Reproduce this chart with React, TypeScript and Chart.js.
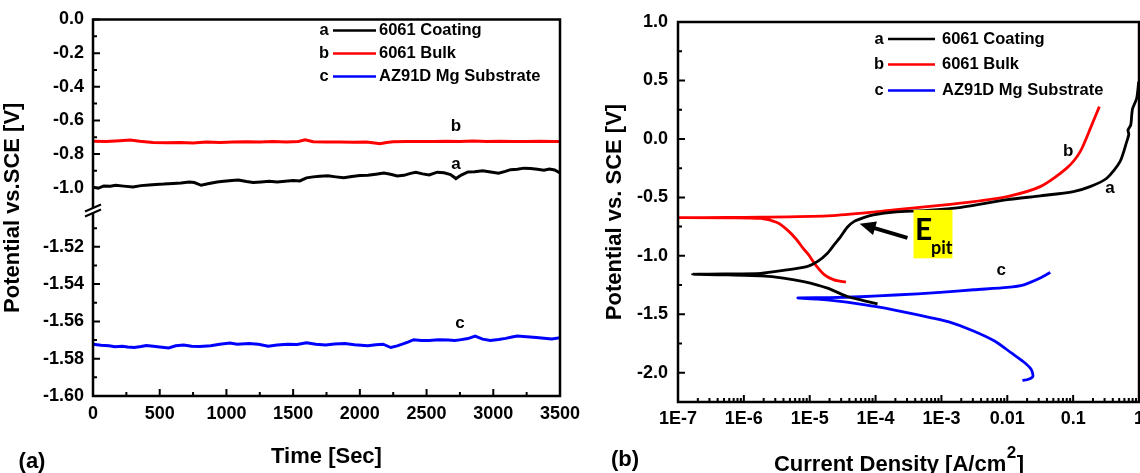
import React, { useEffect, useRef } from 'react';
import { Chart, registerables } from 'chart.js';

Chart.register(...registerables);

const FONT = "'Liberation Sans', Arial, Helvetica, sans-serif";

const seriesLetters = ['a', 'b', 'c'];
const seriesNames = ['6061 Coating', '6061 Bulk', 'AZ91D Mg Substrate'];
const seriesColors = ['#000000', '#ff0000', '#0000ff'];

// ---------- Panel (a): open circuit potential vs time ----------
const timeTicks = [0, 500, 1000, 1500, 2000, 2500, 3000, 3500];
const timeMinorTicks = [250, 750, 1250, 1750, 2250, 2750, 3250];
const upperTicks = [0, -0.2, -0.4, -0.6, -0.8, -1.0];
const upperMinorTicks = [-0.1, -0.3, -0.5, -0.7, -0.9];
const lowerTicks = [-1.52, -1.54, -1.56, -1.58, -1.6];
const lowerMinorTicks = [-1.51, -1.53, -1.55, -1.57, -1.59];

const coatingTime = [0, 40, 80, 130, 170, 230, 300, 360, 420, 470, 530, 600, 660, 720, 760, 810, 870, 930, 980, 1040, 1090, 1150, 1200, 1260, 1320, 1380, 1440, 1500, 1550, 1600, 1650, 1700, 1760, 1820, 1880, 1940, 2000, 2060, 2120, 2180, 2230, 2280, 2330, 2380, 2420, 2470, 2520, 2580, 2630, 2680, 2720, 2760, 2810, 2860, 2920, 2980, 3040, 3090, 3130, 3180, 3230, 3280, 3330, 3380, 3420, 3460, 3500];
const coatingOcp = [-0.998, -1.004, -0.99, -0.992, -0.986, -0.991, -0.996, -0.988, -0.984, -0.981, -0.979, -0.975, -0.972, -0.967, -0.97, -0.986, -0.975, -0.966, -0.962, -0.958, -0.955, -0.964, -0.97, -0.966, -0.962, -0.966, -0.962, -0.958, -0.96, -0.942, -0.936, -0.932, -0.93, -0.936, -0.941, -0.934, -0.928, -0.926, -0.92, -0.913, -0.92, -0.931, -0.927, -0.915, -0.909, -0.918, -0.925, -0.908, -0.912, -0.922, -0.946, -0.925, -0.907, -0.905, -0.9, -0.907, -0.914, -0.903, -0.893, -0.89, -0.884, -0.886, -0.89, -0.896, -0.889, -0.895, -0.912];

const bulkTime = [0, 100, 200, 280, 350, 450, 550, 650, 750, 850, 950, 1050, 1150, 1250, 1350, 1450, 1540, 1590, 1650, 1750, 1850, 1950, 2050, 2110, 2150, 2200, 2250, 2350, 2450, 2550, 2650, 2750, 2850, 2950, 3050, 3150, 3250, 3350, 3450, 3500];
const bulkOcp = [-0.724, -0.726, -0.721, -0.717, -0.724, -0.731, -0.733, -0.731, -0.734, -0.729, -0.731, -0.728, -0.727, -0.729, -0.726, -0.728, -0.725, -0.716, -0.727, -0.729, -0.728, -0.73, -0.729, -0.734, -0.739, -0.731, -0.727, -0.726, -0.725, -0.726, -0.724, -0.725, -0.723, -0.725, -0.724, -0.726, -0.725, -0.724, -0.726, -0.725];

const substrateTime = [0, 60, 120, 164, 220, 260, 308, 360, 400, 452, 500, 567, 620, 680, 739, 800, 882, 950, 1026, 1080, 1169, 1240, 1313, 1380, 1457, 1530, 1600, 1670, 1744, 1810, 1887, 1960, 2060, 2120, 2174, 2232, 2280, 2318, 2360, 2404, 2460, 2519, 2590, 2663, 2710, 2749, 2810, 2864, 2920, 2978, 3040, 3093, 3140, 3179, 3250, 3323, 3380, 3438, 3500];
const substrateOcp = [-1.5722, -1.5728, -1.5731, -1.5736, -1.5733, -1.5737, -1.574, -1.5735, -1.5729, -1.5733, -1.5737, -1.5742, -1.5731, -1.5727, -1.5733, -1.5735, -1.5731, -1.5722, -1.5716, -1.5722, -1.5719, -1.5723, -1.5733, -1.5726, -1.5722, -1.5724, -1.5714, -1.5722, -1.5727, -1.5721, -1.5719, -1.5725, -1.5731, -1.5725, -1.5722, -1.574, -1.5731, -1.5722, -1.5711, -1.5698, -1.5703, -1.5702, -1.5699, -1.57, -1.5703, -1.5699, -1.5692, -1.5679, -1.5695, -1.5702, -1.5697, -1.5691, -1.5684, -1.5678, -1.5682, -1.5686, -1.569, -1.5694, -1.5688];

const ocpLabelTime = [2720, 2720, 2750];
const ocpLabelPotential = [-0.863, -0.637, -1.561];

// ---------- Panel (b): potentiodynamic polarization ----------
const currentTicks = [1e-7, 1e-6, 1e-5, 1e-4, 1e-3, 1e-2, 1e-1, 1];
const currentTickLabels = ['1E-7', '1E-6', '1E-5', '1E-4', '1E-3', '0.01', '0.1', '1'];
const potentialTicks = [1.0, 0.5, 0.0, -0.5, -1.0, -1.5, -2.0];
const potentialMinorTicks = [0.75, 0.25, -0.25, -0.75, -1.25, -1.75];

const coatingCurrent = [1.07e-4, 6.3e-5, 3.72e-5, 1.86e-5, 8.1e-6, 3.98e-6, 1.82e-6, 5.0e-7, 1.66e-7, 5.0e-7, 1.82e-6, 3.98e-6, 9.3e-6, 1.32e-5, 1.86e-5, 2.34e-5, 2.95e-5, 3.72e-5, 4.68e-5, 6.6e-5, 9.3e-5, 1.9e-4, 6.0e-4, 2.0e-3, 1.0e-2, 3.16e-2, 0.101, 0.181, 0.324, 0.515, 0.652, 0.7, 0.68, 0.75, 0.776, 0.8, 0.923, 0.989];
const coatingPotential = [-1.41, -1.38, -1.348, -1.276, -1.22, -1.19, -1.172, -1.162, -1.157, -1.155, -1.15, -1.125, -1.09, -1.048, -0.977, -0.906, -0.835, -0.755, -0.707, -0.673, -0.65, -0.626, -0.612, -0.585, -0.52, -0.487, -0.45, -0.408, -0.336, -0.194, -0.023, 0.04, 0.075, 0.12, 0.205, 0.26, 0.348, 0.49];

const bulkCurrent = [3.55e-5, 2.34e-5, 1.66e-5, 1.2e-5, 9.6e-6, 7.8e-6, 6.3e-6, 4.6e-6, 3.2e-6, 1.82e-6, 5.6e-7, 9e-8, 5.6e-7, 1.82e-6, 1.86e-5, 6.3e-5, 1.9e-4, 9.5e-4, 1.95e-3, 3.1e-3, 1e-2, 3.16e-2, 8.0e-2, 0.128, 0.192, 0.25];
const bulkPotential = [-1.225, -1.205, -1.16, -1.07, -0.99, -0.93, -0.86, -0.78, -0.715, -0.68, -0.674, -0.673, -0.672, -0.67, -0.658, -0.635, -0.607, -0.568, -0.55, -0.536, -0.493, -0.408, -0.25, -0.109, 0.12, 0.276];

const substrateCurrent = [1.7e-2, 2.1e-2, 2.45e-2, 2.3e-2, 1.8e-2, 1.15e-2, 6.5e-3, 3.0e-3, 1.3e-3, 7e-4, 3.0e-4, 1.2e-4, 5.5e-5, 2.5e-5, 1.3e-5, 6.6e-6, 2e-5, 5.9e-5, 2e-4, 9.5e-4, 3.1e-3, 1e-2, 1.78e-2, 3.16e-2, 4.5e-2];
const substratePotential = [-2.066, -2.055, -2.03, -1.97, -1.91, -1.83, -1.73, -1.64, -1.565, -1.53, -1.485, -1.44, -1.41, -1.385, -1.37, -1.36, -1.357, -1.35, -1.335, -1.313, -1.29, -1.27, -1.248, -1.19, -1.142];

const polLabelCurrent = [0.364, 0.084, 8.1e-3];
const polLabelPotential = [-0.419, -0.103, -1.12];

// E_pit annotation anchors (data coordinates)
const epitTip = { x: 5.73e-5, y: -0.726 };
const epitTail = { x: 3.05e-4, y: -0.846 };
const epitBox = { x0: 3.77e-4, x1: 1.47e-3, y0: -0.607, y1: -1.021 };

const tickFont = { family: FONT, size: 18, weight: 'bold' as const };

function pts(xs: number[], ys: number[]) {
  return xs.map((x, i) => ({ x, y: ys[i] }));
}

function drawLegend(ctx: CanvasRenderingContext2D, letterX: number, lineX0: number, lineX1: number, textX: number, rows: number[]) {
  ctx.font = `bold 16.5px ${FONT}`;
  ctx.textBaseline = 'middle';
  rows.forEach((y, i) => {
    ctx.fillStyle = '#000';
    ctx.textAlign = 'center';
    ctx.fillText(seriesLetters[i], letterX, y);
    ctx.strokeStyle = seriesColors[i];
    ctx.lineWidth = 2.5;
    ctx.beginPath();
    ctx.moveTo(lineX0, y);
    ctx.lineTo(lineX1, y);
    ctx.stroke();
    ctx.textAlign = 'left';
    ctx.fillStyle = '#000';
    ctx.fillText(seriesNames[i], textX, y);
  });
}

function drawRotated(ctx: CanvasRenderingContext2D, text: string, cx: number, cy: number) {
  ctx.save();
  ctx.translate(cx, cy);
  ctx.rotate(-Math.PI / 2);
  ctx.textAlign = 'center';
  ctx.textBaseline = 'middle';
  ctx.fillText(text, 0, 0);
  ctx.restore();
}

function xTicks(ctx: CanvasRenderingContext2D, scale: any, bottom: number, values: number[], len: number) {
  values.forEach((v) => {
    const px = scale.getPixelForValue(v);
    ctx.moveTo(px, bottom);
    ctx.lineTo(px, bottom - len);
  });
}
function yTicks(ctx: CanvasRenderingContext2D, scale: any, left: number, values: number[], len: number) {
  values.forEach((v) => {
    const py = scale.getPixelForValue(v);
    ctx.moveTo(left, py);
    ctx.lineTo(left + len, py);
  });
}

const ocpDecor = {
  id: 'ocpDecor',
  afterDatasetsDraw(chart: any) {
    const { ctx, chartArea: a, scales } = chart;
    const x = scales.x, yu = scales.yUpper, yl = scales.yLower;
    ctx.save();
    ctx.strokeStyle = '#000';
    ctx.lineWidth = 2.5;
    ctx.strokeRect(a.left, a.top, a.right - a.left, a.bottom - a.top);
    ctx.lineWidth = 2;
    ctx.beginPath();
    xTicks(ctx, x, a.bottom, timeTicks, 7);
    xTicks(ctx, x, a.bottom, timeMinorTicks, 4);
    yTicks(ctx, yu, a.left, upperTicks, 7);
    yTicks(ctx, yu, a.left, upperMinorTicks, 4);
    yTicks(ctx, yl, a.left, lowerTicks, 7);
    yTicks(ctx, yl, a.left, lowerMinorTicks, 4);
    ctx.stroke();

    // axis break marks
    const yj = yu.bottom + 1;
    const x0 = a.left;
    ctx.fillStyle = '#fff';
    ctx.beginPath();
    ctx.moveTo(x0 - 8, yj + 6);
    ctx.lineTo(x0 + 8, yj - 1);
    ctx.lineTo(x0 + 8, yj - 6);
    ctx.lineTo(x0 - 8, yj + 1);
    ctx.closePath();
    ctx.fill();
    ctx.strokeStyle = '#000';
    ctx.lineWidth = 2;
    ctx.beginPath();
    ctx.moveTo(x0 - 8, yj + 6);
    ctx.lineTo(x0 + 8, yj - 1);
    ctx.moveTo(x0 - 8, yj + 1);
    ctx.lineTo(x0 + 8, yj - 6);
    ctx.stroke();

    drawLegend(ctx, 324, 333, 376, 379, [30.5, 53.5, 76.5]);

    ctx.fillStyle = '#000';
    ctx.font = `bold 17px ${FONT}`;
    ctx.textAlign = 'center';
    ctx.textBaseline = 'middle';
    const yScales = [yu, yu, yl];
    seriesLetters.forEach((l, i) => {
      ctx.fillText(l, x.getPixelForValue(ocpLabelTime[i]), yScales[i].getPixelForValue(ocpLabelPotential[i]));
    });

    ctx.font = `bold 22px ${FONT}`;
    ctx.fillText('Time [Sec]', (a.left + a.right) / 2, 457);
    drawRotated(ctx, 'Potential vs.SCE [V]', 12.5, (a.top + a.bottom) / 2);
    ctx.textAlign = 'center';
    ctx.textBaseline = 'middle';
    ctx.fillText('(a)', 32, 462);
    ctx.restore();
  },
};

const polDecor = {
  id: 'polDecor',
  afterDatasetsDraw(chart: any) {
    const { ctx, chartArea: a, scales } = chart;
    const x = scales.x, y = scales.y;
    ctx.save();
    ctx.strokeStyle = '#000';
    ctx.lineWidth = 2.5;
    ctx.strokeRect(a.left, a.top, a.right - a.left, a.bottom - a.top);
    ctx.lineWidth = 2;
    ctx.beginPath();
    xTicks(ctx, x, a.bottom, currentTicks, 7);
    const minors: number[] = [];
    for (let d = -7; d < 0; d++) for (let k = 2; k <= 9; k++) minors.push(k * Math.pow(10, d));
    xTicks(ctx, x, a.bottom, minors, 4);
    yTicks(ctx, y, a.left, potentialTicks, 7);
    yTicks(ctx, y, a.left, potentialMinorTicks, 4);
    ctx.stroke();

    drawLegend(ctx, 879, 888, 935, 942, [39, 64.5, 90.5]);

    ctx.fillStyle = '#000';
    ctx.font = `bold 17px ${FONT}`;
    ctx.textAlign = 'center';
    ctx.textBaseline = 'middle';
    seriesLetters.forEach((l, i) => {
      ctx.fillText(l, x.getPixelForValue(polLabelCurrent[i]), y.getPixelForValue(polLabelPotential[i]));
    });

    // E_pit annotation
    const bx0 = x.getPixelForValue(epitBox.x0), bx1 = x.getPixelForValue(epitBox.x1);
    const by0 = y.getPixelForValue(epitBox.y0), by1 = y.getPixelForValue(epitBox.y1);
    ctx.fillStyle = '#ffff00';
    ctx.fillRect(bx0, by0, bx1 - bx0, by1 - by0);
    ctx.fillStyle = '#000';
    ctx.textAlign = 'left';
    ctx.textBaseline = 'alphabetic';
    ctx.font = `bold 30px Lato, ${FONT}`;
    ctx.fillText('E', bx0 + 1.5, by0 + 30);
    ctx.font = `bold 18px Lato, ${FONT}`;
    ctx.fillText('pit', bx0 + 17.5, by0 + 44);

    const tx = x.getPixelForValue(epitTip.x), ty = y.getPixelForValue(epitTip.y);
    const sx = x.getPixelForValue(epitTail.x), sy = y.getPixelForValue(epitTail.y);
    const ang = Math.atan2(ty - sy, tx - sx);
    const c = Math.cos(ang), s = Math.sin(ang);
    ctx.strokeStyle = '#000';
    ctx.lineWidth = 4;
    ctx.beginPath();
    ctx.moveTo(sx, sy);
    ctx.lineTo(tx - 12 * c, ty - 12 * s);
    ctx.stroke();
    ctx.beginPath();
    ctx.moveTo(tx, ty);
    ctx.lineTo(tx - 16 * c + 7 * s, ty - 16 * s - 7 * c);
    ctx.lineTo(tx - 16 * c - 7 * s, ty - 16 * s + 7 * c);
    ctx.closePath();
    ctx.fill();

    // titles
    ctx.fillStyle = '#000';
    ctx.font = `bold 22px ${FONT}`;
    drawRotated(ctx, 'Potential vs. SCE [V]', 614.5, (a.top + a.bottom) / 2);
    ctx.textAlign = 'center';
    ctx.textBaseline = 'middle';
    ctx.fillText('(b)', 625, 460);

    const p1 = 'Current Density [A/cm', p2 = '2', p3 = ']';
    ctx.textAlign = 'left';
    ctx.textBaseline = 'alphabetic';
    ctx.font = `bold 22px ${FONT}`;
    const w1 = ctx.measureText(p1).width, w3 = ctx.measureText(p3).width;
    ctx.font = `bold 17px ${FONT}`;
    const w2 = ctx.measureText(p2).width;
    let px = (a.left + a.right) / 2 - 10 - (w1 + w2 + w3) / 2;
    const base = 471;
    ctx.font = `bold 22px ${FONT}`;
    ctx.fillText(p1, px, base);
    px += w1;
    ctx.font = `bold 17px ${FONT}`;
    ctx.fillText(p2, px + 0.5, base - 13);
    px += w2 + 1;
    ctx.font = `bold 22px ${FONT}`;
    ctx.fillText(p3, px, base);
    ctx.restore();
  },
};

function makeOcpChart(canvas: HTMLCanvasElement) {
  return new Chart(canvas, {
    type: 'line',
    data: {
      datasets: [
        { label: seriesNames[0], data: pts(coatingTime, coatingOcp), borderColor: seriesColors[0], borderWidth: 3, pointRadius: 0, tension: 0, yAxisID: 'yUpper' },
        { label: seriesNames[1], data: pts(bulkTime, bulkOcp), borderColor: seriesColors[1], borderWidth: 3, pointRadius: 0, tension: 0, yAxisID: 'yUpper' },
        { label: seriesNames[2], data: pts(substrateTime, substrateOcp), borderColor: seriesColors[2], borderWidth: 3, pointRadius: 0, tension: 0, yAxisID: 'yLower' },
      ],
    },
    options: {
      responsive: false,
      animation: false,
      events: [],
      layout: { padding: { left: 0, right: 580, top: 19.5, bottom: 0 } },
      plugins: { legend: { display: false }, tooltip: { enabled: false }, title: { display: false } },
      scales: {
        x: {
          type: 'linear', min: 0, max: 3500,
          grid: { display: false, drawTicks: false }, border: { display: false },
          afterBuildTicks: (s: any) => { s.ticks = timeTicks.map((v) => ({ value: v })); },
          ticks: { font: tickFont, color: '#000', padding: 7, maxRotation: 0, autoSkip: false, callback: (v: any) => String(v) },
          afterFit: (s: any) => { s.height = 77; s.paddingLeft = 0; s.paddingRight = 0; },
        },
        yLower: {
          type: 'linear', position: 'left', stack: 'ocp', stackWeight: 186.5, min: -1.6, max: -1.5,
          grid: { display: false, drawTicks: false }, border: { display: false },
          afterBuildTicks: (s: any) => { s.ticks = lowerTicks.map((v) => ({ value: v })); },
          ticks: { font: tickFont, color: '#000', padding: 9, autoSkip: false, callback: (v: any) => Number(v).toFixed(2) },
          afterFit: (s: any) => { s.width = 93; s.paddingTop = 0; s.paddingBottom = 0; },
        },
        yUpper: {
          type: 'linear', position: 'left', stack: 'ocp', stackWeight: 190, min: -1.13, max: 0,
          grid: { display: false, drawTicks: false }, border: { display: false },
          afterBuildTicks: (s: any) => { s.ticks = upperTicks.map((v) => ({ value: v })); },
          ticks: { font: tickFont, color: '#000', padding: 9, autoSkip: false, callback: (v: any) => Number(v).toFixed(1) },
          afterFit: (s: any) => { s.width = 93; s.paddingTop = 0; s.paddingBottom = 0; },
        },
      },
    } as any,
    plugins: [ocpDecor],
  });
}

function makePolChart(canvas: HTMLCanvasElement) {
  return new Chart(canvas, {
    type: 'line',
    data: {
      datasets: [
        { label: seriesNames[0], data: pts(coatingCurrent, coatingPotential), borderColor: seriesColors[0], borderWidth: 2.8, pointRadius: 0, tension: 0.25 },
        { label: seriesNames[1], data: pts(bulkCurrent, bulkPotential), borderColor: seriesColors[1], borderWidth: 2.8, pointRadius: 0, tension: 0.25 },
        { label: seriesNames[2], data: pts(substrateCurrent, substratePotential), borderColor: seriesColors[2], borderWidth: 2.8, pointRadius: 0, tension: 0.25 },
      ],
    },
    options: {
      responsive: false,
      animation: false,
      events: [],
      layout: { padding: { left: 570, right: 1, top: 22, bottom: 0 } },
      plugins: { legend: { display: false }, tooltip: { enabled: false }, title: { display: false } },
      scales: {
        x: {
          type: 'logarithmic', min: 1e-7, max: 1,
          grid: { display: false, drawTicks: false }, border: { display: false },
          afterBuildTicks: (s: any) => { s.ticks = currentTicks.map((v) => ({ value: v })); },
          ticks: {
            font: tickFont, color: '#000', padding: 6, maxRotation: 0, autoSkip: false,
            callback: (v: any) => {
              const i = currentTicks.findIndex((t) => Math.abs(t - Number(v)) / t < 1e-6);
              return i >= 0 ? currentTickLabels[i] : '';
            },
          },
          afterFit: (s: any) => { s.height = 71; s.paddingLeft = 0; s.paddingRight = 0; },
        },
        y: {
          type: 'linear', position: 'left', min: -2.25, max: 1.0,
          grid: { display: false, drawTicks: false }, border: { display: false },
          afterBuildTicks: (s: any) => { s.ticks = potentialTicks.map((v) => ({ value: v })); },
          ticks: { font: tickFont, color: '#000', padding: 10, autoSkip: false, callback: (v: any) => Number(v).toFixed(1) },
          afterFit: (s: any) => { s.width = 108; s.paddingTop = 0; s.paddingBottom = 0; },
        },
      },
    } as any,
    plugins: [polDecor],
  });
}

export default function App() {
  const leftRef = useRef<HTMLCanvasElement>(null);
  const rightRef = useRef<HTMLCanvasElement>(null);
  useEffect(() => {
    const c1 = makeOcpChart(leftRef.current as HTMLCanvasElement);
    const c2 = makePolChart(rightRef.current as HTMLCanvasElement);
    return () => {
      c1.destroy();
      c2.destroy();
    };
  }, []);
  const cs: React.CSSProperties = { position: 'absolute', left: 0, top: 0, width: 1140, height: 473 };
  return (
    <div style={{ position: 'fixed', left: 0, top: 0, width: 1140, height: 473, background: '#fff', overflow: 'hidden' }}>
      <canvas ref={leftRef} width={1140} height={473} style={cs} />
      <canvas ref={rightRef} width={1140} height={473} style={cs} />
    </div>
  );
}
